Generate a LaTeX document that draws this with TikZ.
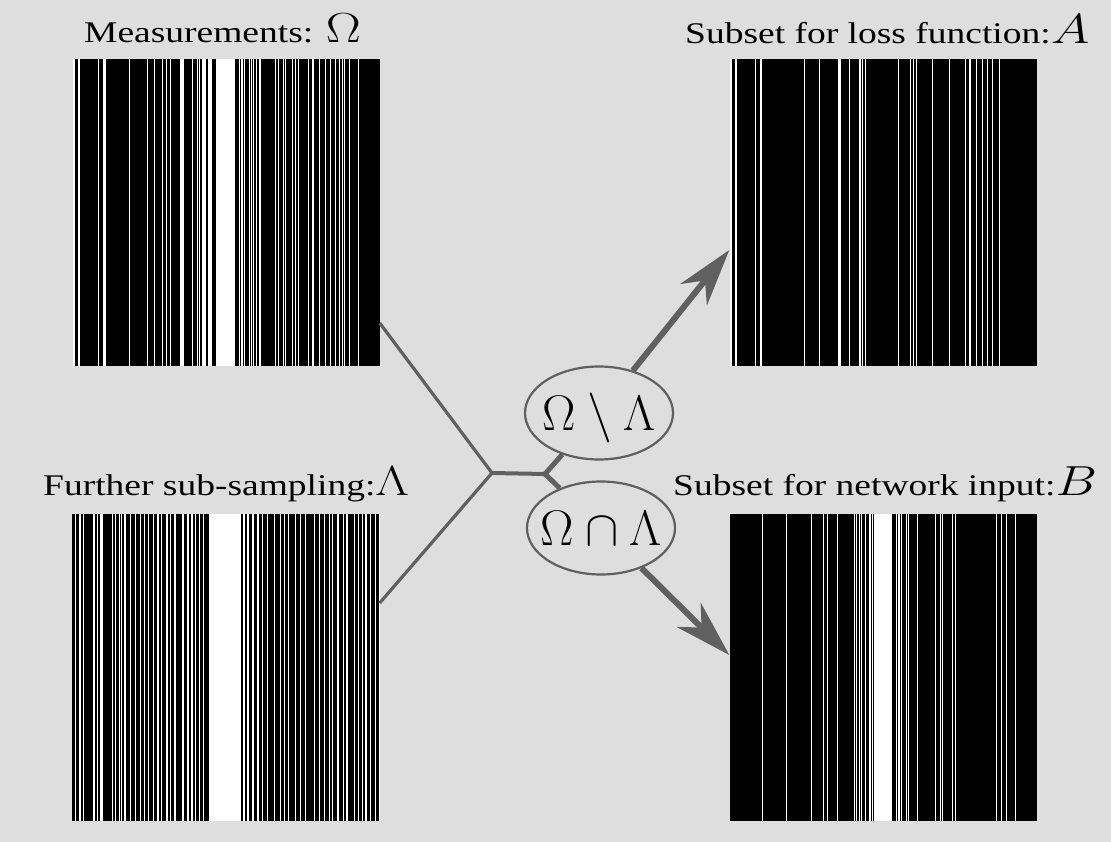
\RequirePackage{fix-cm}
\documentclass[tikz,border=0pt]{standalone}
\usepackage[no-math]{fontspec}
\setmainfont{Liberation Serif}
\usetikzlibrary{arrows.meta,shapes.geometric}
\definecolor{bgc}{RGB}{222,222,222}
\definecolor{conn}{RGB}{96,96,96}
\newcommand\mathsz{\fontsize{42}{42}\selectfont}
\newcommand\wstripes[2]{%
  \begin{scope}[shift={(#1.north west)}]
    \foreach \p in {#2} \fill[white] ({\p-0.75},0) rectangle ({\p+0.75},307);
  \end{scope}}
\tikzset{
  bar/.style={rectangle, fill=black, inner sep=0pt, minimum width=307pt, minimum height=307pt},
  conline/.style={draw=conn, line width=3.2pt},
  ell/.style={ellipse, draw=conn, line width=2.2pt, minimum width=148pt, minimum height=93pt,
    inner sep=0pt, text height=34pt, text depth=0pt, font=\fontsize{50}{50}\selectfont},
  arr/.style={draw=conn, line width=6pt, -{Stealth[length=57pt,width=34pt,inset=18pt]}},
  lab/.style={anchor=base west, inner sep=0pt, font=\fontsize{30}{30}\selectfont},
}
\begin{document}
\begin{tikzpicture}[x=1pt,y=-1pt]
\fill[bgc] (0,0) rectangle (1111,842);
\useasboundingbox (0,0) rectangle (1111,842);

% barcode panels
\node[bar] (omega) at (226,212.5) {};
\node[bar] (setA) at (883,212.5) {};
\node[bar, fill=white] (lambda) at (226,667.5) {};
\node[bar] (setB) at (883,667.5) {};

% subset A
\wstripes{setA}{1.7,6.7,26.4,31.7,75,90,109.4,110.7,120,130.7,133.4,136,169,181.4,184,187,203,220,236.4,240.7,247,253,258,263,270}
% subset B
\wstripes{setB}{33,57.4,82.4,94,98,108,125,127.4,130,132.4,136.4,140.7,143,167.4,169.7,172.4,177.4,179.4,188.4,206.4,211.4,213.4,223,226,267.4,272.4,277.4,286.4}
\begin{scope}[shift={(setB.north west)}]
  \fill[white] (144.7,0) rectangle (162.4,307);
\end{scope}
% Omega = A union B
\wstripes{omega}{1.7,6.7,26.4,31.7,75,90,109.4,110.7,120,130.7,133.4,136,169,181.4,184,187,203,220,236.4,240.7,247,253,258,263,270}
\wstripes{omega}{33,57.4,82.4,94,98,108,125,127.4,130,132.4,136.4,167.4,169.7,172.4,177.4,179.4,188.4,206.4,211.4,213.4,223,226,267.4,272.4,277.4,286.4}
\begin{scope}[shift={(omega.north west)}]
  \fill[white] (135.6,0) rectangle (140,307);
  \fill[white] (144,0) rectangle (162.3,307);
\end{scope}
% Lambda
\begin{scope}[shift={(lambda.north west)}]
  \foreach \a/\b in {0/2,4/6.3,9/10.7,12/20.7,22.7/24.3,26/27.7,30.7/36,37.3/39,40.7/42.3,44/46,
    47.7/48.7,50/51.7,54/57.7,59.3/62.7,64.3/67.7,69.3/71,72.7/75,77/80.3,82.3/84.3,86.7/88.7,
    90.3/93,95.7/97.7,99.3/101,104/107,108.3/109.7,111.7/114.3,116.7/118.3,120.7/122.7,124.3/126,
    127.7/130.3,131.7/133,134.3/136,169.3/170.7,173.3/174.7,177.3/179.3,181.7/184.3,186.7/189.3,
    191.3/194,195.7/198,199.3/201.7,203.3/205,206.3/207.7,209.3/211.7,213/215,216.7/219.3,
    220.3/222,224/227.7,229.3/232.7,234.3/241,242.7/246,247.7/251,252.7/256,257.7/259.3,261/264.3,
    266.7/270.3,271.7/273.7,275.7/281,282.7/285,286.7/289.3,291/292.7,295.3/297.7,299.3/302.7,304/306.7}
    \fill[black] ({max(\a-0.3,0)},0) rectangle ({min(\b+0.3,307)},307);
\end{scope}

% labels
\node[lab] (tOmega) at (84,43) {\scalebox{1.25}[1]{Measurements: {\mathsz$\Omega$}}};
\node[lab] (tA) at (685,44) {\scalebox{1.25}[1]{Subset for loss function:{\mathsz$A$}}};
\node[lab] (tLambda) at (43,495) {\scalebox{1.25}[1]{Further sub-sampling:{\mathsz$\Lambda$}}};
\node[lab] (tB) at (673,495) {\scalebox{1.25}[1]{Subset for network input:{\mathsz$B$}}};

% set operation ellipses
\node[ell] (e1) at (599,413) {\makebox[0pt]{$\Omega\setminus\Lambda$}};
\node[ell] (e2) at (601,528) {\makebox[0pt]{$\Omega\cap\Lambda$}};

% connectors
\coordinate (j1) at (492,473);
\coordinate (j2) at (545,474);
\draw[conline] (omega.east |- 0,323) -- (j1);
\draw[conline] (lambda.east |- 0,603) -- (j1);
\draw[conline, line width=4pt] (j1) -- (j2);
\draw[conline, line width=5pt] (j2) -- (e1);
\draw[conline, line width=5pt] (j2) -- (e2);
\draw[arr] (e1) -- (setA.west |- 0,250);
\draw[arr] (e2) -- (setB.west |- 0,655);
\end{tikzpicture}
\end{document}
